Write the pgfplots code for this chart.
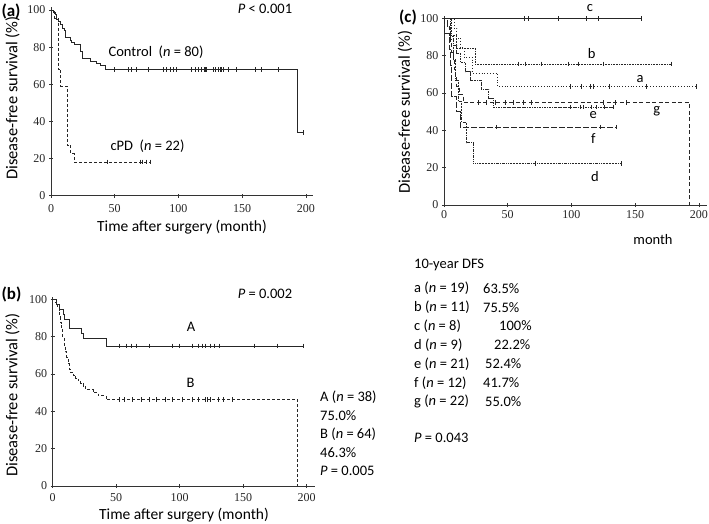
\documentclass[border=0pt]{standalone}
\usepackage{fontspec}
\setmainfont{Carlito}
\newfontfamily\serifnum{Liberation Serif}
\usepackage{pgfplots}
\pgfplotsset{compat=1.18}

\newcommand\tx{\fontsize{14.5}{14.5}\selectfont}
\newcommand\yl{\fontsize{16.5}{16.5}\selectfont}
\newcommand\xl{\fontsize{15.5}{15.5}\selectfont}
\newcommand\lbl{\bfseries\fontsize{17}{17}\selectfont}

\pgfplotsset{
  km/.style={
    scale only axis, anchor=south west, clip=false,
    axis lines=left, axis line style={-, line width=0.7pt, black!80},
    xmin=0, ymin=0, ymax=101.5,
    xtick={0,50,100,150,200}, ytick={0,20,40,60,80,100},
    tick align=center, major tick length=4pt,
    tick style={line width=0.6pt, black!80},
    ticklabel style={font=\serifnum\fontsize{12}{12}\selectfont, text=black!85},
    /pgf/number format/assume math mode=true,
    every axis plot/.append style={const plot, mark=none, line width=0.8pt, black!85},
  },
  cens/.style={only marks, mark=|, mark size=2.3pt, mark options={solid, line width=0.6pt}},
}

\begin{document}
\begin{tikzpicture}
\useasboundingbox (0,0) rectangle (709pt,-524pt);

% ---------------- (a)
\begin{axis}[km, at={(51pt,-195.7pt)}, width=262pt, height=188.5pt, xmax=205.5,
  xticklabel style={yshift=-3pt}]
  % Control
  \addplot[solid] coordinates {(0,100)(1.8,98.75)(3.1,97.5)(4.4,95)(5.8,93.75)(7.6,92.5)(8.6,90)
    (10.5,88.75)(11,85)(14.9,83.75)(16,82.5)(18,81.25)(22.7,77.5)(24.8,73.75)(30.6,72.5)
    (35.8,71.25)(38.4,70)(42.4,68)(193,34)(198,34)};
  \addplot[cens] coordinates {(50,68)(60.6,68)(63.3,68)(67.2,68)(76.3,68)(88.1,68)(90.7,68)(93.3,68)
    (96,68)(98.6,68)(110.3,68)(113,68)(115.6,68)(118.2,68)(120,68)(120.8,68)(122.1,68)(127.3,68)
    (128.6,68)(131.2,68)(132.5,68)(133.9,68)(135.2,68)(139,68)(145.6,68)(160,68)(165.3,68)
    (178.3,68)(198,34)};
  % cPD
  \addplot[dash pattern=on 3pt off 2pt] coordinates {(0,100)(3,95.45)(5.8,68.2)(7.5,59.1)(12.6,27.3)
    (15.3,22.7)(18,18.2)(77.6,18.2)};
  \addplot[cens] coordinates {(43.8,18.2)(69.8,18.2)(71.9,18.2)(75,18.2)(77.6,18.2)};
\end{axis}

% ---------------- (b)
\begin{axis}[km, at={(52.7pt,-486pt)}, width=262.3pt, height=189.5pt, xmax=206.5,
  xticklabel style={yshift=-2pt}]
  % A
  \addplot[solid] coordinates {(0,100)(3.1,97.4)(5.2,94.7)(8.3,92.1)(9.6,89.5)(13.5,84.2)(22.6,81.6)
    (23.9,78.9)(42,75)(197,75)};
  \addplot[cens] coordinates {(52.6,75)(57.8,75)(61.7,75)(65.6,75)(75.9,75)(94.1,75)(99.3,75)
    (109.7,75)(115,75)(117.5,75)(120,75)(124,75)(127,75)(131,75)(159,75)(177,75)(197,75)};
  % B
  \addplot[dash pattern=on 3pt off 2pt] coordinates {(0,100)(1.5,98.4)(3,96.9)(4,95.3)(5,93.8)
    (5.5,90.6)(6,87.5)(7,84.4)(8,79.7)(9,75)(10,71.9)(11,68.8)(12,65.6)(13,62.5)(14,60.9)
    (16,59.4)(18,57.8)(20,56.3)(22,54.7)(24,53.1)(26,51.6)(32,50)(36,48.4)(42,46.3)(193,0)};
  \addplot[cens] coordinates {(52.6,46.3)(56.5,46.3)(63,46.3)(69.5,46.3)(76,46.3)(81.2,46.3)
    (89,46.3)(94.2,46.3)(102,46.3)(109.8,46.3)(115,46.3)(120.3,46.3)(121.6,46.3)(124,46.3)
    (130.7,46.3)(134.6,46.3)(141,46.3)};
\end{axis}

% ---------------- (c)
\begin{axis}[km, at={(444pt,-205pt)}, width=262.6pt, height=189.5pt, xmax=206,
  xticklabel style={yshift=0pt}]
  % c
  \addplot[solid] coordinates {(0,100)(155,100)};
  \addplot[cens] coordinates {(63,100)(66,100)(90,100)(112,100)(121,100)(155,100)};
  % b
  \addplot[dash pattern=on 0.6pt off 1pt] coordinates {(0,100)(6,90.9)(10,83.9)(24.5,75.5)(178.6,75.5)};
  \addplot[cens] coordinates {(58.3,75.5)(63.5,75.5)(76.6,75.5)(97.5,75.5)(105.3,75.5)(125,75.5)(178.6,75.5)};
  % a
  \addplot[dash pattern=on 0.8pt off 2pt] coordinates {(0,100)(8,94.7)(10,89.5)(13,84.2)(16,78.9)
    (22.5,70.6)(42,63.5)(198,63.5)};
  \addplot[cens] coordinates {(98.8,63.5)(108,63.5)(114.5,63.5)(117,63.5)(130,63.5)(159,63.5)(198,63.5)};
  % e
  \addplot[dash pattern=on 2.5pt off 1pt on 0.6pt off 1pt] coordinates {(0,100)(3,95.2)(5,90.5)
    (7,85.7)(10,81)(13,76.2)(17,71.4)(21,66.7)(29,61.9)(35,57.1)(38.5,52.4)(133,52.4)};
  \addplot[cens] coordinates {(98.8,52.4)(106.7,52.4)(109.3,52.4)(115.8,52.4)(119.8,52.4)(126,52.4)(133,52.4)};
  % f
  \addplot[dash pattern=on 6pt off 2pt] coordinates {(0,100)(0.5,91.7)(4,83.3)(5,75)(5.5,66.7)
    (6,58.3)(10,50)(12.5,41.7)(135.5,41.7)};
  \addplot[cens] coordinates {(41.3,41.7)(122.4,41.7)(135.5,41.7)};
  % d
  \addplot[dash pattern=on 2pt off 1pt on 0.6pt off 1pt on 0.6pt off 1pt] coordinates {(0,100)
    (5,88.9)(7,77.8)(9,66.7)(11,55.6)(14,44.4)(17.8,33.3)(23,22.2)(139,22.2)};
  \addplot[cens] coordinates {(71.4,22.2)(139,22.2)};
  % g
  \addplot[dash pattern=on 4pt off 2.5pt] coordinates {(0,100)(3,95.5)(4,90.9)(5,86.4)(6,81.8)
    (7,77.3)(8,72.7)(9,68.2)(10,63.6)(12,59.1)(15,55)(192.5,0)};
  \addplot[cens] coordinates {(27,55)(33.5,55)(40,55)(47.8,55)(54.4,55)(62.2,55)(68.8,55)
    (125,55)(134,55)(143.3,55)};
\end{axis}

% ---------------- texts (a)
\node[font=\lbl, inner sep=0] at (11pt,-11pt) {(a)};
\node[font=\tx, inner sep=0] at (265pt,-9pt) {\textit{P} < 0.001};
\node[font=\tx, inner sep=0] at (156pt,-52.5pt) {Control\ \ (\textit{n} = 80)};
\node[font=\tx, inner sep=0] at (147.5pt,-145.8pt) {cPD\ \ (\textit{n} = 22)};
\node[font=\yl, inner sep=0, rotate=90] at (12.5pt,-98pt) {Disease-free survival (\%)};
\node[font=\xl, inner sep=0] at (182pt,-226.7pt) {Time after surgery (month)};

% ---------------- texts (b)
\node[font=\lbl, inner sep=0] at (11.5pt,-294pt) {(b)};
\node[font=\tx, inner sep=0] at (265pt,-294pt) {\textit{P} = 0.002};
\node[font=\tx, inner sep=0] at (191pt,-327pt) {A};
\node[font=\tx, inner sep=0] at (190.5pt,-383pt) {B};
\node[font=\tx, inner sep=0, anchor=west] at (320pt,-397pt) {A (\textit{n} = 38)};
\node[font=\tx, inner sep=0, anchor=west] at (320pt,-415.5pt) {75.0\%};
\node[font=\tx, inner sep=0, anchor=west] at (320pt,-434pt) {B (\textit{n} = 64)};
\node[font=\tx, inner sep=0, anchor=west] at (320pt,-452.5pt) {46.3\%};
\node[font=\tx, inner sep=0, anchor=west] at (320pt,-471pt) {\textit{P} = 0.005};
\node[font=\yl, inner sep=0, rotate=90] at (12.5pt,-395pt) {Disease-free survival (\%)};
\node[font=\xl, inner sep=0] at (184pt,-515pt) {Time after surgery (month)};

% ---------------- texts (c)
\node[font=\lbl, inner sep=0] at (408pt,-17pt) {(c)};
\node[font=\yl, inner sep=0, rotate=90] at (405pt,-112pt) {Disease-free survival (\%)};
\node[font=\tx, inner sep=0] at (590pt,-8.3pt) {c};
\node[font=\tx, inner sep=0] at (591.7pt,-53.3pt) {b};
\node[font=\tx, inner sep=0] at (640pt,-79pt) {a};
\node[font=\tx, inner sep=0] at (656.7pt,-111.7pt) {g};
\node[font=\tx, inner sep=0] at (593.3pt,-115pt) {e};
\node[font=\tx, inner sep=0] at (593.3pt,-138.3pt) {f};
\node[font=\tx, inner sep=0] at (595pt,-176.7pt) {d};
\node[font=\tx, inner sep=0] at (653pt,-240pt) {month};

\node[font=\tx, inner sep=0, anchor=west] at (414pt,-265pt) {10-year DFS};
\foreach \y/\l/\px/\p in {288.3/a (\textit{n} = 19)/483/63.5\%,
                          307.3/b (\textit{n} = 11)/483/75.5\%,
                          326/c (\textit{n} = 8)/499/100\%,
                          345/d (\textit{n} = 9)/494/22.2\%,
                          364/e (\textit{n} = 21)/485/52.4\%,
                          382.7/f (\textit{n} = 12)/483/41.7\%,
                          401.7/g (\textit{n} = 22)/485/55.0\%}{
  \node[font=\tx, inner sep=0, anchor=west] at (414pt,-\y pt) {\l};
  \node[font=\tx, inner sep=0, anchor=west] at (\px pt,-\y pt) {\p};
}
\node[font=\tx, inner sep=0, anchor=west] at (414pt,-438.3pt) {\textit{P} = 0.043};
\end{tikzpicture}
\end{document}
